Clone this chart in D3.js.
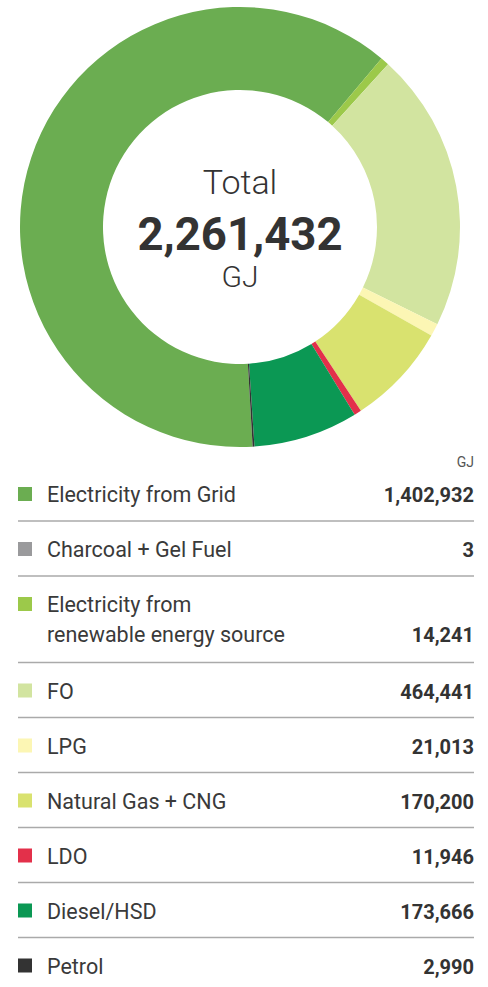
<!DOCTYPE html>
<html>
<head>
<meta charset="utf-8">
<script src="https://cdn.jsdelivr.net/npm/d3@7"></script>
<style>
  html, body { margin: 0; padding: 0; background: #ffffff; }
  svg { display: block; }
  text { font-family: Roboto, "Noto Sans", sans-serif; }
</style>
</head>
<body>
<svg id="chart" width="488" height="987"></svg>
<script>
// Energy consumption by source, in GJ
const categories = [
  "Electricity from Grid",
  "Charcoal + Gel Fuel",
  "Electricity from renewable energy source",
  "FO",
  "LPG",
  "Natural Gas + CNG",
  "LDO",
  "Diesel/HSD",
  "Petrol"
];
const values = [1402932, 3, 14241, 464441, 21013, 170200, 11946, 173666, 2990];
const colors = ["#6bad51", "#9a9a9c", "#9cc94a", "#d2e4a0", "#fcf6b4", "#d9e26f", "#e3304a", "#0b9854", "#333333"];
// legend labels, with the long one split over two lines
const legendLines = [
  ["Electricity from Grid"],
  ["Charcoal + Gel Fuel"],
  ["Electricity from", "renewable energy source"],
  ["FO"],
  ["LPG"],
  ["Natural Gas + CNG"],
  ["LDO"],
  ["Diesel/HSD"],
  ["Petrol"]
];
const unitLabel = "GJ";
const totalTitle = "Total";

const svg = d3.select("#chart");
const fmt = d3.format(",");
const total = d3.sum(values);

const data = categories.map((c, i) => ({ name: c, value: values[i], color: colors[i], lines: legendLines[i] }));

// ---- donut ----
const cx = 240, cy = 227, rOuter = 220, rInner = 137;
const startDeg = 176.7;
const pie = d3.pie().sort(null).value(d => d.value)
  .startAngle(startDeg * Math.PI / 180)
  .endAngle((startDeg + 360) * Math.PI / 180);
const arc = d3.arc().innerRadius(rInner).outerRadius(rOuter);

const donut = svg.append("g").attr("transform", `translate(${cx},${cy})`);
donut.selectAll("path")
  .data(pie(data))
  .join("path")
  .attr("d", arc)
  .attr("fill", d => d.data.color);

const center = donut.append("g").attr("fill", "#333333").attr("text-anchor", "middle");
center.append("text").attr("y", -33).attr("font-size", 34).attr("font-weight", 300).text(totalTitle);
center.append("text").attr("y", 23).attr("font-size", 45.5).attr("font-weight", 700).text(fmt(total));
center.append("text").attr("y", 60).attr("font-size", 30).attr("font-weight", 300).text(unitLabel);

// ---- legend table ----
const left = 18, right = 474;
const rowH = 55, lineGap = 30;
svg.append("text")
  .attr("x", right).attr("y", 467)
  .attr("text-anchor", "end").attr("font-size", 14).attr("fill", "#555555")
  .text(unitLabel);

let rowTop = 466;
data.forEach((d, i) => {
  const h = rowH + (d.lines.length - 1) * (lineGap + 1.5);
  const base = rowTop + 36;
  const g = svg.append("g");
  g.append("rect")
    .attr("x", left).attr("y", base - 15).attr("width", 14).attr("height", 14)
    .attr("fill", d.color);
  d.lines.forEach((ln, j) => {
    g.append("text")
      .attr("x", 47).attr("y", base + j * lineGap)
      .attr("font-size", 21.5).attr("fill", "#3a3a3a")
      .text(ln);
  });
  g.append("text")
    .attr("x", right).attr("y", base + (d.lines.length - 1) * lineGap)
    .attr("text-anchor", "end").attr("font-size", 20).attr("font-weight", 700).attr("fill", "#333333")
    .text(fmt(d.value));
  rowTop += h;
  if (i < data.length - 1) {
    g.append("line")
      .attr("x1", left).attr("x2", right)
      .attr("y1", rowTop).attr("y2", rowTop)
      .attr("stroke", "#aaaaaa").attr("stroke-width", 1.5);
  }
});
</script>
</body>
</html>
